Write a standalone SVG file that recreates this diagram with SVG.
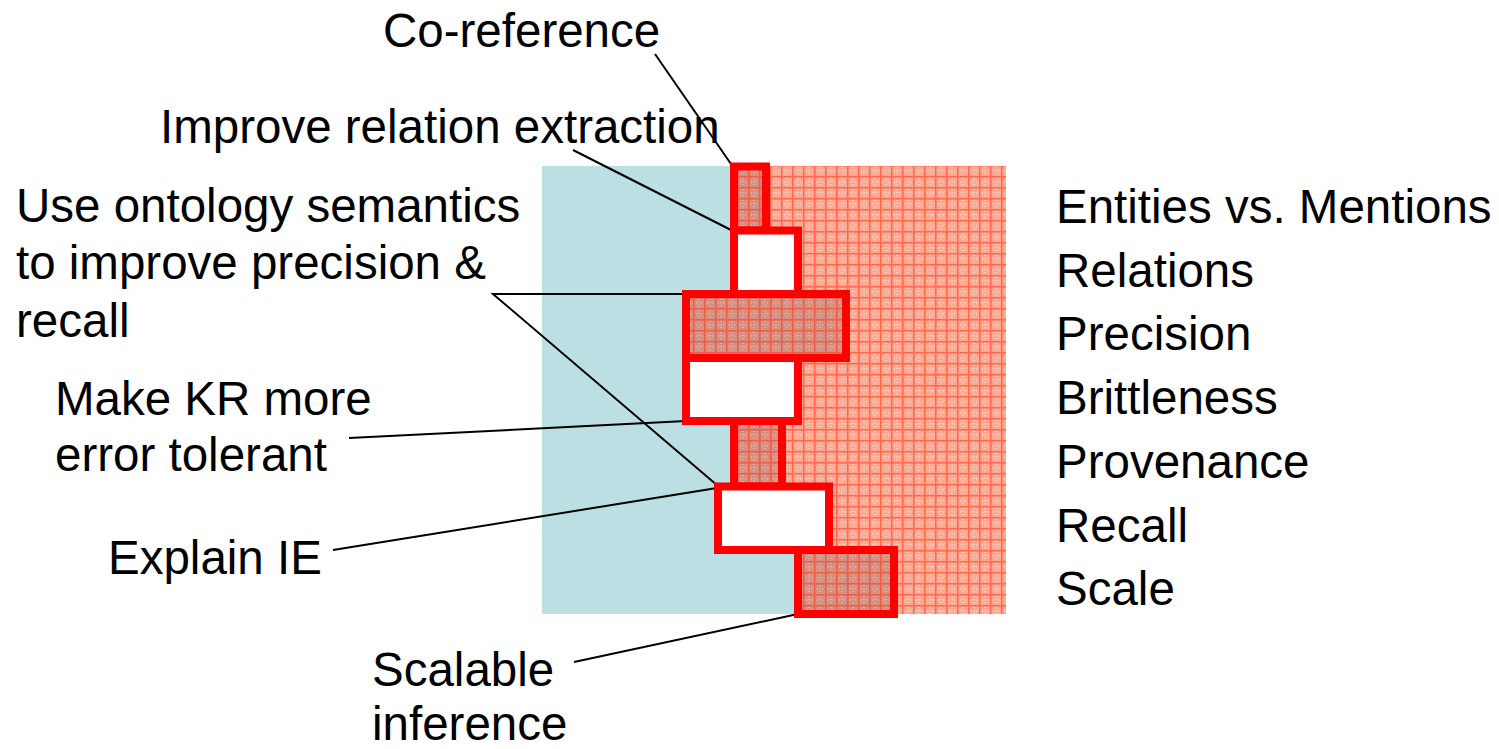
<svg xmlns="http://www.w3.org/2000/svg" width="1499" height="749" viewBox="0 0 1499 749">
  <style>
    text { font-family: "Liberation Sans", Arial, sans-serif; font-size: 47.5px; fill: #000; }
    .box { stroke: #ff0000; stroke-width: 8; }
    .lead { stroke: #000; stroke-width: 2; fill: none; }
  </style>
  <defs>
    <!-- light salmon grid texture for the target area -->
    <pattern id="gridLight" width="11" height="11" patternUnits="userSpaceOnUse">
      <rect width="11" height="11" fill="#ffa995"/>
      <rect x="0" y="0" width="11" height="1.5" fill="#ff6a4c"/>
      <rect x="0" y="0" width="1.5" height="11" fill="#ff6a4c"/>
      <rect x="5.5" y="2" width="1" height="1" fill="#fff3ee"/>
      <rect x="5.5" y="5" width="1" height="1" fill="#fff3ee"/>
      <rect x="5.5" y="8" width="1" height="1" fill="#fff3ee"/>
      <rect x="3" y="5.5" width="1" height="1" fill="#fff3ee"/>
      <rect x="8" y="5.5" width="1" height="1" fill="#fff3ee"/>
    </pattern>
    <!-- darker texture for the filled steps -->
    <pattern id="gridDark" width="11" height="11" patternUnits="userSpaceOnUse">
      <rect width="11" height="11" fill="#d88e80"/>
      <rect x="0" y="0" width="11" height="1.5" fill="#ee5e44"/>
      <rect x="0" y="0" width="1.5" height="11" fill="#ee5e44"/>
      <rect x="5.5" y="2" width="1" height="1" fill="#d6d2cc"/>
      <rect x="5.5" y="5" width="1" height="1" fill="#d6d2cc"/>
      <rect x="5.5" y="8" width="1" height="1" fill="#d6d2cc"/>
      <rect x="3" y="5.5" width="1" height="1" fill="#d6d2cc"/>
      <rect x="8" y="5.5" width="1" height="1" fill="#d6d2cc"/>
    </pattern>
  </defs>

  <!-- background areas -->
  <g id="areas">
    <rect x="542" y="166" width="256" height="448" fill="#bbdfe2"/>
    <polygon fill="url(#gridLight)" points="766,166 1006,166 1006,614 894,614 894,550 829,550 829,486.5 782,486.5 782,421 798,421 798,358 846,358 846,294 798,294 798,230.5 766,230.5"/>
  </g>

  <!-- connectors -->
  <g id="connectors">
    <line class="lead" x1="655" y1="54" x2="731" y2="164"/>
    <line class="lead" x1="573" y1="150" x2="733" y2="231"/>
    <polyline class="lead" points="684,294 493,294 718,486"/>
    <line class="lead" x1="349" y1="438" x2="686" y2="421"/>
    <line class="lead" x1="333" y1="550" x2="717" y2="488"/>
    <line class="lead" x1="574" y1="662" x2="798" y2="614"/>
  </g>

  <!-- step boxes -->
  <g id="step-coref"><rect class="box" x="734" y="166.5" width="32" height="64" fill="url(#gridDark)"/></g>
  <g id="step-relation"><rect class="box" x="734" y="230.5" width="64" height="63.5" fill="#fff"/></g>
  <g id="step-precision"><rect class="box" x="686" y="294" width="160" height="64" fill="url(#gridDark)"/></g>
  <g id="step-brittleness"><rect class="box" x="686" y="358" width="112" height="63" fill="#fff"/></g>
  <g id="step-provenance"><rect class="box" x="734" y="421" width="48" height="65.5" fill="url(#gridDark)"/></g>
  <g id="step-recall"><rect class="box" x="718" y="486.5" width="111" height="63.5" fill="#fff"/></g>
  <g id="step-scale"><rect class="box" x="798" y="550" width="96" height="64" fill="url(#gridDark)"/></g>

  <!-- left-hand labels -->
  <g id="label-coref"><text x="383" y="47">Co-reference</text></g>
  <g id="label-relation"><text x="160" y="143">Improve relation extraction</text></g>
  <g id="label-ontology">
    <text x="16" y="222">Use ontology semantics</text>
    <text x="16" y="279">to improve precision &amp;</text>
    <text x="16" y="337">recall</text>
  </g>
  <g id="label-kr">
    <text x="55" y="415">Make KR more</text>
    <text x="55" y="471">error tolerant</text>
  </g>
  <g id="label-explain"><text x="108" y="574">Explain IE</text></g>
  <g id="label-scalable">
    <text x="372" y="686">Scalable</text>
    <text x="372" y="740">inference</text>
  </g>

  <!-- right-hand list -->
  <g id="issues">
    <text x="1056" y="223">Entities vs. Mentions</text>
    <text x="1056" y="287">Relations</text>
    <text x="1056" y="350">Precision</text>
    <text x="1056" y="414">Brittleness</text>
    <text x="1056" y="478">Provenance</text>
    <text x="1056" y="542">Recall</text>
    <text x="1056" y="605">Scale</text>
  </g>
</svg>
